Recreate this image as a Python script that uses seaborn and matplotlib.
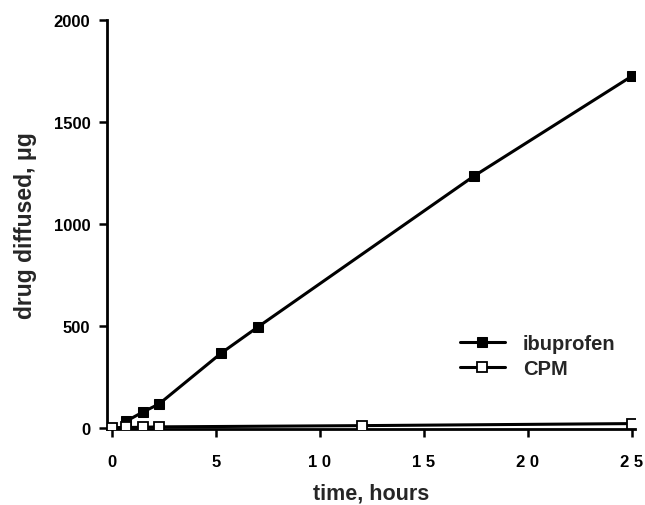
import numpy as np
import pandas as pd
import matplotlib
matplotlib.use("Agg")
import matplotlib.pyplot as plt
import seaborn as sns

# data
ibu_time = [0.67, 1.5, 2.25, 5.25, 7.0, 17.4, 25.0]
ibu_amount = [34, 80, 118, 368, 495, 1235, 1725]
cpm_time = [0.0, 0.67, 1.5, 2.25, 12.0, 25.0]
cpm_amount = [2, 3, 4, 6, 12, 22]

x_ticks = [0, 5, 10, 15, 20, 25]
x_tick_labels = ["0", "5", "1 0", "1 5", "2 0", "2 5"]
y_ticks = [0, 500, 1000, 1500, 2000]

ibu = pd.DataFrame({"time": ibu_time, "amount": ibu_amount})
cpm = pd.DataFrame({"time": cpm_time, "amount": cpm_amount})

sns.set_style("white")
plt.rcParams["font.family"] = ["Liberation Sans", "DejaVu Sans"]
plt.rcParams["font.weight"] = "bold"

fig = plt.figure(figsize=(6.45, 5.06), dpi=100)
ax = fig.add_axes([0.166, 0.150, 0.818, 0.808])

sns.lineplot(data=ibu, x="time", y="amount", ax=ax, color="black",
             linewidth=2.2, marker="s", markersize=6.5, markerfacecolor="black",
             markeredgecolor="black", label="ibuprofen", zorder=3)
sns.lineplot(data=cpm, x="time", y="amount", ax=ax, color="black",
             linewidth=2.2, marker="s", markersize=6.5, markerfacecolor="white",
             markeredgecolor="black", markeredgewidth=1.3, label="CPM", zorder=4)

ax.set_xlim(-0.25, 25.15)
ax.set_ylim(-5, 2000)
ax.set_xticks(x_ticks)
ax.set_xticklabels(x_tick_labels)
ax.set_yticks(y_ticks)

for side in ["top", "right"]:
    ax.spines[side].set_visible(False)
for side in ["left", "bottom"]:
    ax.spines[side].set_color("black")
    ax.spines[side].set_linewidth(2)

ax.tick_params(axis="both", direction="out", length=6, width=1.8,
               colors="black", labelsize=12, bottom=True, left=True)
ax.tick_params(axis="x", pad=12)
ax.tick_params(axis="y", pad=6)
for lab in ax.get_xticklabels() + ax.get_yticklabels():
    lab.set_fontweight("bold")

ax.set_xlabel("time, hours", fontsize=15.5, fontweight="bold", labelpad=10)
ax.set_ylabel("drug diffused, \u03bcg", fontsize=16.5, fontweight="bold", labelpad=12)

leg = ax.legend(loc="upper left", bbox_to_anchor=(0.635, 0.278), frameon=False,
                fontsize=14.5, handlelength=2.2, handletextpad=0.9, labelspacing=0.3)
for t in leg.get_texts():
    t.set_fontweight("bold")

fig.savefig("out.png", dpi=100)
plt.close(fig)
